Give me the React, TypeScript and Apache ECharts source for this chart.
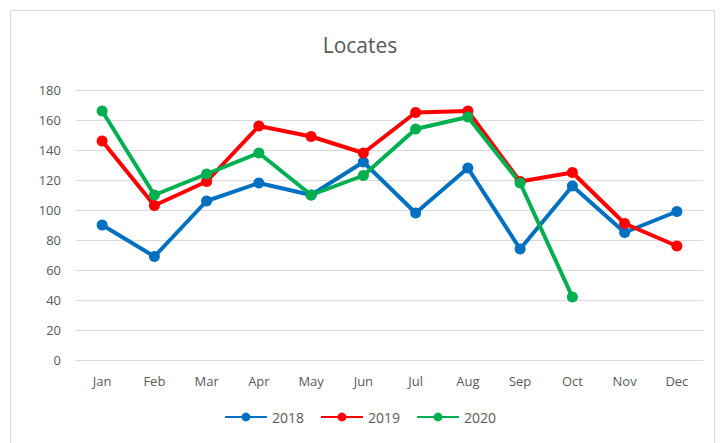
import React, { useEffect, useRef } from "react";
import * as echarts from "echarts";

const months = ["Jan", "Feb", "Mar", "Apr", "May", "Jun", "Jul", "Aug", "Sep", "Oct", "Nov", "Dec"];
const s2018 = [90, 69, 106, 118, 110, 132, 98, 128, 74, 116, 85, 99];
const s2019 = [146, 103, 119, 156, 149, 138, 165, 166, 119, 125, 91, 76];
const s2020 = [166, 110, 124, 138, 110, 123, 154, 162, 118, 42, null, null];

const FONT = "'Open Sans', 'Liberation Sans', sans-serif";

export default function App() {
  const ref = useRef<HTMLDivElement>(null);
  useEffect(() => {
    if (!ref.current) return;
    const chart = echarts.init(ref.current, null, { renderer: "svg" });
    const mk = (name: string, data: (number | null)[], color: string) => ({
      name,
      type: "line",
      data,
      symbol: "circle",
      symbolSize: 11,
      lineStyle: { width: 4, color },
      itemStyle: { color },
      connectNulls: false,
    });
    chart.setOption({
      animation: false,
      backgroundColor: "#ffffff",
      title: {
        text: "Locates",
        left: "center",
        top: 29,
        textStyle: { fontFamily: FONT, fontSize: 21, fontWeight: "normal", color: "#595959" },
      },
      graphic: [
        {
          type: "rect",
          shape: { x: 10.5, y: 10.5, width: 704, height: 440 },
          style: { fill: "none", stroke: "#d9d9d9", lineWidth: 1 },
          silent: true,
        },
      ],
      legend: {
        bottom: 14,
        left: "center",
        itemWidth: 42,
        itemHeight: 11,
        itemGap: 16,
        textStyle: { fontFamily: FONT, fontSize: 14, color: "#595959" },
        data: ["2018", "2019", "2020"],
      },
      grid: { left: 76, right: 17, top: 90, bottom: 83 },
      xAxis: {
        type: "category",
        data: months,
        boundaryGap: true,
        axisLine: { show: true, lineStyle: { color: "#d9d9d9" } },
        axisTick: { show: false },
        axisLabel: { fontFamily: FONT, fontSize: 13, color: "#595959", margin: 14 },
      },
      yAxis: {
        type: "value",
        min: 0,
        max: 180,
        interval: 20,
        axisLine: { show: false },
        axisTick: { show: false },
        splitLine: { lineStyle: { color: "#d9d9d9", width: 1 } },
        axisLabel: { fontFamily: FONT, fontSize: 13, color: "#595959", margin: 15 },
      },
      series: [
        mk("2018", s2018, "#0070c0"),
        mk("2019", s2019, "#ff0000"),
        mk("2020", s2020, "#00b050"),
      ],
    });
    return () => chart.dispose();
  }, []);
  return (
    <div
      ref={ref}
      style={{ position: "fixed", left: 0, top: 0, width: 720, height: 443 }}
    />
  );
}
